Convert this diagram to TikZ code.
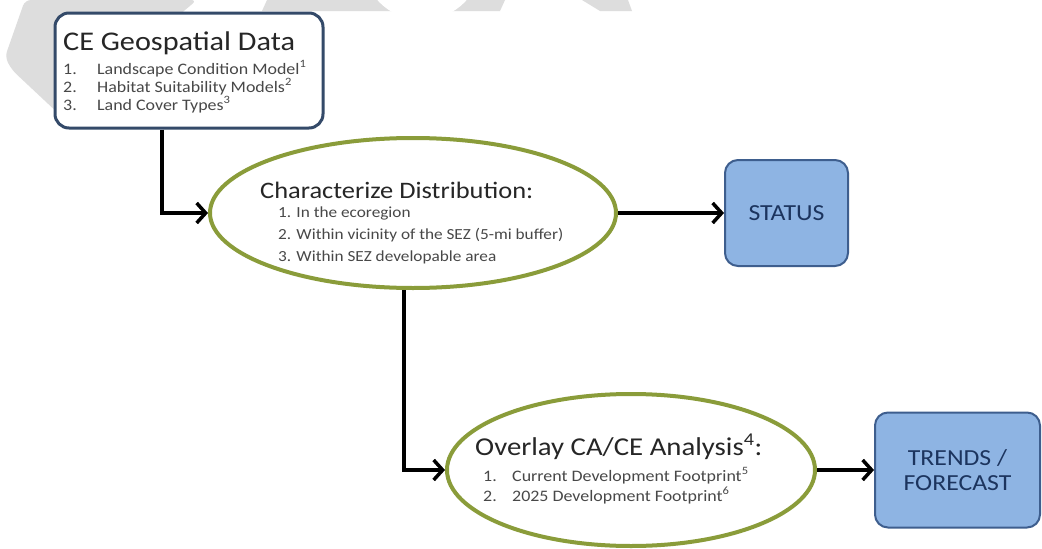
\documentclass[tikz,border=0pt]{standalone}
\usepackage{fontspec}
\setmainfont[FakeStretch=1.12]{Carlito}
\usetikzlibrary{arrows.meta,shapes.geometric}
\definecolor{wm}{RGB}{221,221,221}
\definecolor{ceborder}{RGB}{52,74,105}
\definecolor{olivering}{RGB}{138,156,58}
\definecolor{boxfill}{RGB}{142,180,227}
\definecolor{boxborder}{RGB}{62,94,142}
\definecolor{navytext}{RGB}{28,52,94}
\definecolor{titlegray}{RGB}{38,38,38}
\definecolor{itemgray}{RGB}{72,72,72}
\begin{document}
\begin{tikzpicture}[x=1pt,y=-1pt,
  cebox/.style={draw=ceborder,line width=3pt,fill=white,rounded corners=14pt,minimum width=268pt,minimum height=115pt,inner sep=0pt},
  oval/.style={ellipse,draw=olivering,line width=4pt,fill=white,inner sep=0pt},
  bluebox/.style={draw=boxborder,line width=2pt,fill=boxfill,rounded corners=13pt,inner sep=0pt,text=navytext,align=center,font=\fontsize{23}{25}\selectfont},
  arr/.style={line width=3.5pt,-{Straight Barb[length=9pt,width=20pt]}},
  ttl/.style={anchor=base west,inner sep=0pt,text=titlegray},
  itm/.style={anchor=base west,inner sep=0pt,text=itemgray},
  ceitm/.style={itm,font=\fontsize{16}{18}\selectfont},
]
\useasboundingbox (0,0) rectangle (1042,549);
\fill[white] (0,0) rectangle (1042,549);
% watermark remnants
\fill[wm,rounded corners=6pt] (25,0) -- (197,0) -- (60,115) -- (12,70) -- (5,57) -- cycle;
\fill[wm] (267,0) -- (505,0) -- (500,11) -- (262,11) -- cycle;
\fill[white] (422,-40) circle[radius=60];
\fill[wm] (582,0) -- (628,0) -- (632,11) -- (600,11) -- cycle;

% CE box
\node[cebox] (ce) at (189,70.5) {};
\node[ttl,font=\fontsize{27}{30}\selectfont] (cet) at (63,50) {CE Geospatial Data};
\node[ceitm] (cen1) at (63,74) {1.};
\node[ceitm] (cei1) at (97,74) {Landscape Condition Model\textsuperscript{1}};
\node[ceitm] (cen2) at (63,92) {2.};
\node[ceitm] (cei2) at (97,92) {Habitat Suitability Models\textsuperscript{2}};
\node[ceitm] (cen3) at (63,110) {3.};
\node[ceitm] (cei3) at (97,110) {Land Cover Types\textsuperscript{3}};

% Ellipse 1
\node[oval,minimum width=406pt,minimum height=150pt] (e1) at (413,213) {};
\node[ttl,font=\fontsize{23.6}{26}\selectfont] (e1t) at (260,198) {Characterize Distribution:};
\node[itm,font=\fontsize{15.4}{17}\selectfont] (e1i1) at (278,217) {1. In the ecoregion};
\node[itm,font=\fontsize{15.4}{17}\selectfont] (e1i2) at (278,239) {2. Within vicinity of the SEZ (5-mi buffer)};
\node[itm,font=\fontsize{15.4}{17}\selectfont] (e1i3) at (278,261) {3. Within SEZ developable area};

% STATUS
\node[bluebox,minimum width=123pt,minimum height=106pt] (st) at (786.5,213) {STATUS};

% Ellipse 2
\node[oval,minimum width=368pt,minimum height=152pt] (e2) at (631,470) {};
\node[ttl,font=\fontsize{25.7}{28}\selectfont] (e2t) at (475,455) {Overlay CA/CE Analysis\textsuperscript{4}:};
\node[itm,font=\fontsize{16}{18}\selectfont] (e2n1) at (483,481) {1.};
\node[itm,font=\fontsize{16}{18}\selectfont] (e2i1) at (512,481) {Current Development Footprint\textsuperscript{5}};
\node[itm,font=\fontsize{16}{18}\selectfont] (e2n2) at (483,501) {2.};
\node[itm,font=\fontsize{16}{18}\selectfont] (e2i2) at (512,501) {2025 Development Footprint\textsuperscript{6}};

% TRENDS / FORECAST
\node[bluebox,minimum width=165pt,minimum height=115pt] (tr) at (957.5,470) {TRENDS /\\FORECAST};

% connectors
\coordinate (b1) at (162,0);
\coordinate (b2) at (404,0);
\draw[arr] (ce.south -| b1) |- (e1.west);
\draw[arr] (e1.east) -- (st.west);
\draw[arr] (e1.south -| b2) |- (e2.west);
\draw[arr] (e2.east) -- (tr.west);
\end{tikzpicture}
\end{document}
